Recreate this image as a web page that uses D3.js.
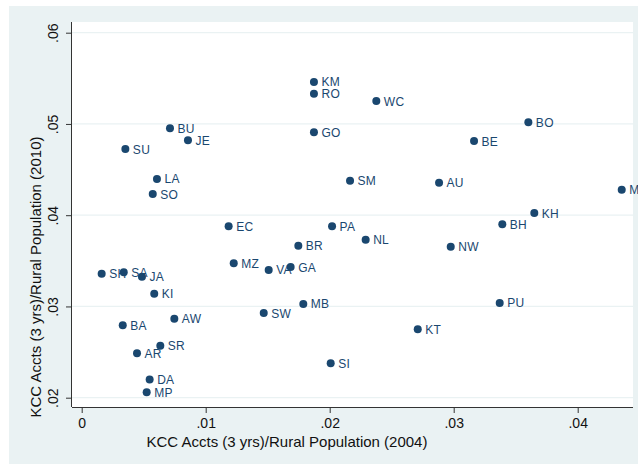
<!DOCTYPE html>
<html>
<head>
<meta charset="utf-8">
<script src="https://cdn.jsdelivr.net/npm/d3@7"></script>
<style>
  body { margin: 0; background: #fff; }
  text { font-family: "Liberation Sans", Arial, sans-serif; }
</style>
</head>
<body>
<svg class="chart"></svg>
<script>
var svgWidth = 638, svgHeight = 466;

// state codes and their KCC ratios
var codes = ['KM', 'RO', 'GO', 'WC', 'BO', 'BE', 'SM', 'AU', 'M', 'KH', 'BH', 'PA', 'NL', 'NW',
  'BR', 'PU', 'MB', 'KT', 'SI', 'EC', 'MZ', 'VA', 'GA', 'SW', 'SH', 'SA', 'JA', 'KI', 'BA',
  'AW', 'SR', 'AR', 'DA', 'MP', 'BU', 'JE', 'SU', 'LA', 'SO'];
var ratio2004 = [.01873, .01873, .01873, .02376, .03602, .03164, .02164, .02882, .04355, .0365, .03392, .02019, .0229, .02976,
  .01747, .03371, .01787, .0271, .02008, .01185, .01226, .01508, .01685, .01468, .00161, .00339, .00486, .00585, .00331,
  .00747, .00634, .00446, .00548, .00524, .00712, .00857, .00352, .00607, .00573];
var ratio2010 = [.0546, .0533, .0491, .05251, .05018, .04813, .04378, .04356, .0428, .04024, .0390, .0388, .03732, .03655,
  .03666, .03038, .03027, .0275, .02377, .03878, .03473, .0340, .03432, .02928, .03359, .03374, .03326, .0314, .02793,
  .02866, .0257, .02487, .0220, .02059, .04952, .04821, .04725, .04397, .04232];
var xTicks = [0, .01, .02, .03, .04];
var yTicks = [.02, .03, .04, .05, .06];

var points = codes.map(function(c, i) {
  return { code: c, x: ratio2004[i], y: ratio2010[i] };
});

var plot = { left: 72, right: 633, top: 22, bottom: 407 };
var navy = '#1a476f', bg = '#eaf2f3';

var x = d3.scaleLinear().domain([0, .04]).range([81.7, 577.7]);
var y = d3.scaleLinear().domain([.02, .06]).range([397.7, 32.7]);

var svg = d3.select('svg.chart').attr('width', svgWidth).attr('height', svgHeight);

svg.append('rect')
  .attr('x', 9).attr('y', 6)
  .attr('width', svgWidth - 9).attr('height', svgHeight - 8)
  .attr('fill', bg);

svg.append('rect')
  .attr('x', plot.left).attr('y', plot.top)
  .attr('width', plot.right - plot.left).attr('height', plot.bottom - plot.top)
  .attr('fill', '#fff');

// horizontal grid
svg.append('g')
  .selectAll('line')
  .data(yTicks)
  .enter()
  .append('line')
  .attr('x1', plot.left).attr('x2', plot.right)
  .attr('y1', function(d) { return y(d); })
  .attr('y2', function(d) { return y(d); })
  .attr('stroke', bg)
  .attr('stroke-width', 1.2);

// axes
var xAxis = svg.append('g')
  .attr('transform', 'translate(0,' + plot.bottom + ')')
  .call(d3.axisBottom(x).tickValues(xTicks).tickSize(6).tickPadding(5)
    .tickFormat(function(d) { return d === 0 ? '0' : d3.format('.2f')(d).replace(/^0/, ''); }));
xAxis.select('.domain').attr('d', 'M' + plot.left + ',0.5H' + plot.right);

var yAxis = svg.append('g')
  .attr('transform', 'translate(' + plot.left + ',0)')
  .call(d3.axisLeft(y).tickValues(yTicks).tickSize(6).tickPadding(0)
    .tickFormat(function(d) { return d3.format('.2f')(d).replace(/^0/, ''); }));
yAxis.select('.domain').attr('d', 'M-0.5,' + plot.top + 'V' + plot.bottom);

svg.selectAll('.domain').attr('stroke', '#333');
svg.selectAll('.tick line').attr('stroke', '#333');
svg.selectAll('.tick text').attr('fill', '#111').attr('font-size', 14)
  .attr('font-family', '"Liberation Sans", Arial, sans-serif');

yAxis.selectAll('.tick text')
  .attr('x', 0).attr('dy', 0)
  .attr('text-anchor', 'middle')
  .attr('transform', 'translate(-14,0) rotate(-90)');

// axis titles
svg.append('text')
  .attr('x', 287).attr('y', 447)
  .attr('text-anchor', 'middle')
  .attr('font-size', 15)
  .attr('fill', '#111')
  .text('KCC Accts (3 yrs)/Rural Population (2004)');

svg.append('text')
  .attr('transform', 'translate(41,277) rotate(-90)')
  .attr('text-anchor', 'middle')
  .attr('font-size', 15)
  .attr('fill', '#111')
  .text('KCC Accts (3 yrs)/Rural Population (2010)');

// labels under markers
svg.append('g')
  .selectAll('text')
  .data(points)
  .enter()
  .append('text')
  .attr('x', function(d) { return x(d.x) + 7.5; })
  .attr('y', function(d) { return y(d.y) + 4.5; })
  .attr('font-size', 12)
  .attr('letter-spacing', 0.3)
  .attr('fill', navy)
  .text(function(d) { return d.code; });

svg.append('g')
  .selectAll('circle')
  .data(points)
  .enter()
  .append('circle')
  .attr('cx', function(d) { return x(d.x); })
  .attr('cy', function(d) { return y(d.y); })
  .attr('r', 4)
  .attr('fill', navy);
</script>
</body>
</html>
